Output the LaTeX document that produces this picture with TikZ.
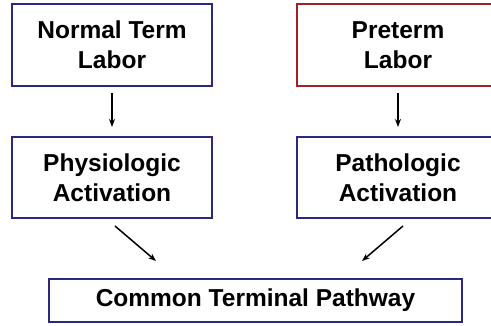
\documentclass[tikz,border=0pt]{standalone}
\usepackage{fontspec}
\setmainfont{Liberation Sans}
\usetikzlibrary{calc,arrows.meta}

\definecolor{boxblue}{RGB}{44,40,128}
\definecolor{boxred}{RGB}{158,34,38}

\tikzset{
  flowbox/.style={draw=boxblue,line width=2pt,fill=white,align=center,
    font=\fontsize{24.5}{30}\selectfont\bfseries,inner sep=0pt},
  flowarrow/.style={line width=1.5pt,-{Stealth[length=8pt,width=6pt]}}
}

\begin{document}
\begin{tikzpicture}[x=1pt,y=1pt]
\clip (0,0) rectangle (491,325);

% top row
\node (normal) at (112,280)[flowbox,minimum width=200pt, minimum height=82pt]{Normal Term\\Labor};
\node (preterm) at (398,280)[flowbox,draw=boxred,minimum width=202pt, minimum height=82pt]{Preterm\\Labor};

% middle row
\node (physio) at (112,147.5)[flowbox,minimum width=200pt, minimum height=81pt]{Physiologic\\Activation};
\node (patho) at (398,147.5)[flowbox,minimum width=202pt, minimum height=81pt]{Pathologic\\Activation};

% bottom
\node (common) at (255.5,24.5)[flowbox,minimum width=413pt, minimum height=43pt]{Common Terminal Pathway};

\draw[flowarrow,shorten <=6pt,shorten >=9pt] (normal.south) -- (physio.north);
\draw[flowarrow,shorten <=6pt,shorten >=9pt] (preterm.south) -- (patho.north);
\draw[flowarrow] ($(physio.south)+(3,-7)$) -- ($(common.north)+(-99.5,17)$);
\draw[flowarrow] ($(patho.south)+(5,-7)$) -- ($(common.north)+(106.5,17)$);
\end{tikzpicture}
\end{document}
